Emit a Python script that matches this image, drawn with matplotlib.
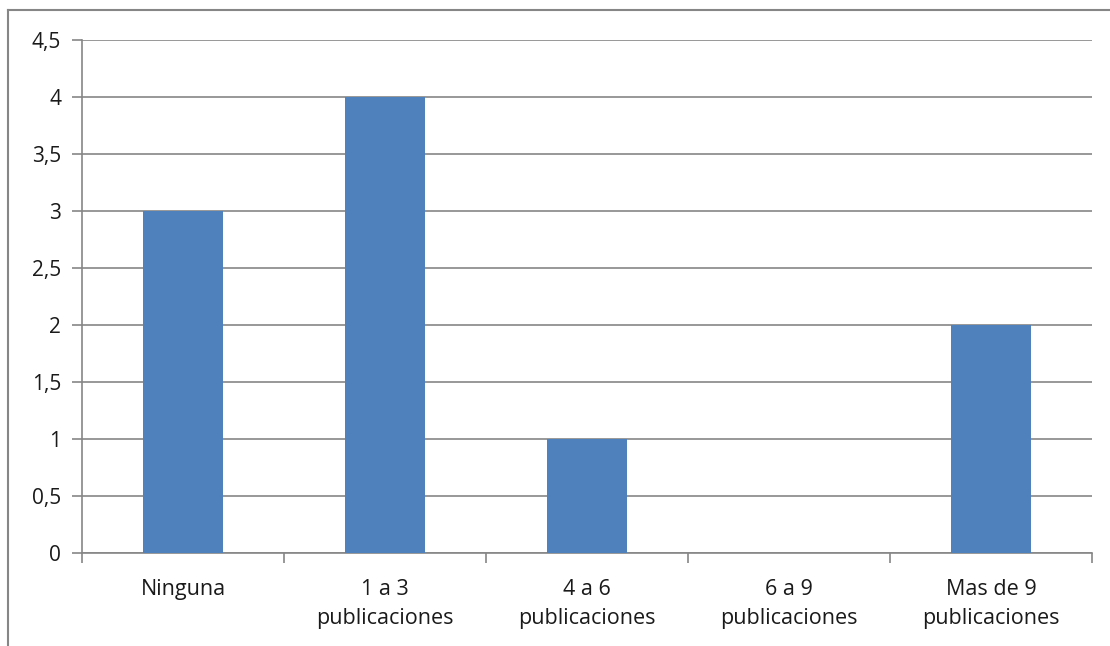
import numpy as np
import matplotlib
matplotlib.use("Agg")
from matplotlib import pyplot as plt
from matplotlib.lines import Line2D

categorias = ["Ninguna", "1 a 3\npublicaciones", "4 a 6\npublicaciones",
              "6 a 9\npublicaciones", "Mas de 9\npublicaciones"]
valores = [3, 4, 1, 0, 2]
y_ticks = [0, 0.5, 1, 1.5, 2, 2.5, 3, 3.5, 4, 4.5]
y_labels = ["0", "0,5", "1", "1,5", "2", "2,5", "3", "3,5", "4", "4,5"]

azul = "#4F81BD"
gris = "#868686"
texto = "#1a1a1a"

plt.rcParams["font.family"] = ["Open Sans", "DejaVu Sans"]

fig = plt.figure(figsize=(11.1, 6.46), dpi=100)
ax = fig.add_axes([82 / 1110, 1 - 553 / 646, 1010 / 1110, 513 / 646])

x = np.arange(len(categorias))
ax.bar(x, valores, width=0.4, color=azul, zorder=3)

ax.set_xlim(-0.5, len(categorias) - 0.5)
ax.set_ylim(0, 4.5)
ax.set_yticks(y_ticks)
ax.set_yticklabels(y_labels)
ax.yaxis.grid(True, color=gris, linewidth=1.2, zorder=0)

ax.set_xticks(x)
ax.set_xticklabels(categorias, fontsize=15.5, color=texto, linespacing=1.45)
ax.set_xticks(np.arange(len(categorias) + 1) - 0.5, minor=True)
ax.tick_params(axis="x", which="major", length=0, pad=19)
ax.tick_params(axis="x", which="minor", length=7, color=gris, width=1.2)
ax.tick_params(axis="y", length=7, color=gris, width=1.2, labelsize=15,
               labelcolor=texto, pad=8)

for lado in ["top", "right"]:
    ax.spines[lado].set_visible(False)
for lado in ["left", "bottom"]:
    ax.spines[lado].set_color(gris)
    ax.spines[lado].set_linewidth(1.2)

# marco exterior del gráfico
fig.add_artist(Line2D([8 / 1110, 8 / 1110], [0, 1 - 10 / 646],
                      transform=fig.transFigure, color=gris, linewidth=1.5))
fig.add_artist(Line2D([8 / 1110, 1], [1 - 10 / 646, 1 - 10 / 646],
                      transform=fig.transFigure, color=gris, linewidth=1.5))

fig.savefig("out.png", dpi=100)
